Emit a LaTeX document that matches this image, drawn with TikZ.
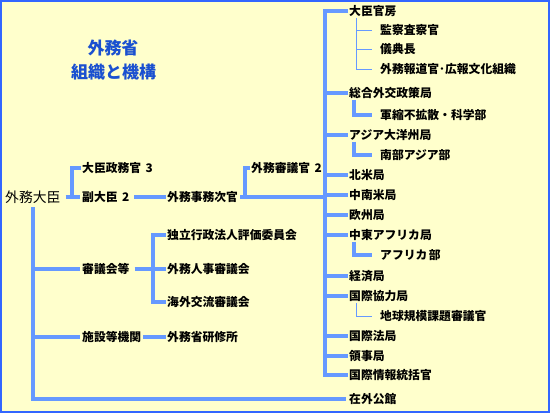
\documentclass[tikz,border=0pt]{standalone}
\usepackage{fontspec}
\newfontfamily\jp{Noto Sans CJK JP}
\definecolor{bgc}{HTML}{FFFFCC}
\definecolor{framec}{HTML}{3366FF}
\definecolor{linec}{HTML}{6699FF}
\definecolor{titlec}{HTML}{1A50D0}
\tikzset{
  lbl/.style={anchor=west, inner sep=0pt, font=\jp\bfseries\fontsize{11.8}{12}\selectfont},
  ttl/.style={inner sep=0pt, text=titlec, font=\jp\bfseries\fontsize{17}{18}\selectfont},
  trunk/.style={line width=4pt, draw=linec},
  twig/.style={line width=1pt, draw=linec},
}
\begin{document}
\begin{tikzpicture}[x=1pt, y=-1pt]
\useasboundingbox (0,0) rectangle (550,413);
\fill[bgc] (0,0) rectangle (550,413);
\draw[framec, line width=2pt] (1,1) rectangle (549,412);
% title
\node[ttl] (t1) at (113,48) {外務省};
\node[ttl] (t2) at (113.5,72) {組織と機構};
% left
\node[anchor=west, inner sep=0pt, font=\jp\fontsize{13.8}{14}\selectfont] (min) at (5,197) {外務大臣};
\node[lbl] (seimu) at (82,168) {大臣政務官\hspace{4.5pt}3};
\node[lbl] (fuku) at (82,197) {副大臣\hspace{4.5pt}2};
\node[lbl] (jimu) at (167,197) {外務事務次官};
\node[lbl] (shingi) at (251,168) {外務審議官\hspace{4.5pt}2};
\node[lbl] (shkai) at (82,269) {審議会等};
\node[lbl] (dok) at (167,235) {独立行政法人評価委員会};
\node[lbl] (jinji) at (167,269) {外務人事審議会};
\node[lbl] (kaigai) at (167,302) {海外交流審議会};
\node[lbl] (shis) at (82,337) {施設等機関};
\node[lbl] (kenshu) at (167,337) {外務省研修所};
% right column
\node[lbl] (kanbo) at (349,11) {大臣官房};
\node[lbl] (kansatsu) at (380,30) {監察査察官};
\node[lbl] (gitei) at (380,49) {儀典長};
\node[lbl] (hodo) at (380,69) {外務報道官･広報文化組織};
\node[lbl] (sogo) at (349,93) {総合外交政策局};
\node[lbl] (gunshuku) at (380,115) {軍縮不拡散・科学部};
\node[lbl] (asia) at (349,135) {アジア大洋州局};
\node[lbl] (nanbu) at (380,155) {南部アジア部};
\node[lbl] (hokubei) at (349,175) {北米局};
\node[lbl] (chunanbei) at (349,195) {中南米局};
\node[lbl] (oshu) at (349,215) {欧州局};
\node[lbl] (chuto) at (349,235) {中東アフリカ局};
\node[lbl] (africa) at (380,255) {アフリカ\hspace{1.5pt}部};
\node[lbl] (keizai) at (349,276) {経済局};
\node[lbl] (kyoryoku) at (349,296) {国際協力局};
\node[lbl] (chikyu) at (380,316) {地球規模課題審議官};
\node[lbl] (hokyoku) at (349,336) {国際法局};
\node[lbl] (ryoji) at (349,356) {領事局};
\node[lbl] (johou) at (349,375) {国際情報統括官};
\node[lbl] (zaigai) at (349,399) {在外公館};
% coordinates
\coordinate (T) at (33,207);
\coordinate (J1) at (72,197);
\coordinate (J2) at (245,197);
\coordinate (B) at (325,197);
\coordinate (S) at (153,269);
\coordinate (K) at (356,0);
\coordinate (K2) at (354,0);
% left trunk
\draw[trunk] (T) |- ([xshift=-3pt]zaigai.west);
\draw[trunk] (shkai.west -| T) -- ([xshift=-2pt]shkai.west);
\draw[trunk] (shis.west -| T) -- ([xshift=-2pt]shis.west);
\draw[trunk] ([xshift=5pt]min.east) -- ([xshift=-2pt]fuku.west);
\draw[trunk] (J1) |- ([xshift=-1pt]seimu.west);
\draw[trunk] ([xshift=5pt]fuku.east) -- ([xshift=-1pt]jimu.west);
\draw[trunk] ([xshift=2pt]jimu.east) -- (B);
\draw[trunk] (J2) |- ([xshift=-1pt]shingi.west);
\draw[trunk] ([xshift=5pt]shkai.east) -- ([xshift=-1pt]jinji.west);
\draw[trunk] ([xshift=-1pt]dok.west) -| (S) |- ([xshift=-1pt]kaigai.west);
\draw[trunk] ([xshift=2pt]shis.east) -- ([xshift=-1pt]kenshu.west);
% right bus
\draw[trunk] ([xshift=-1pt]kanbo.west) -| (johou.west -| B) -- ([xshift=-1pt]johou.west);
\foreach \n in {sogo,asia,hokubei,chunanbei,oshu,chuto,keizai,kyoryoku,hokyoku,ryoji}
  \draw[trunk] (\n.west -| B) -- ([xshift=-1pt]\n.west);
% sub-items
\draw[twig] ([yshift=-1pt]kanbo.south -| K) -- (hodo.west -| K);
\foreach \n in {kansatsu,gitei,hodo}
  \draw[twig] (\n.west -| K) -- ([xshift=-8pt]\n.west);
\draw[trunk] ([yshift=-1pt]sogo.south -| K2) |- ([xshift=-8pt]gunshuku.west);
\draw[trunk] ([yshift=-1pt]asia.south -| K2) |- ([xshift=-8pt]nanbu.west);
\draw[trunk] ([yshift=-1pt]chuto.south -| K2) |- ([xshift=-8pt]africa.west);
\draw[twig] ([yshift=-1pt]kyoryoku.south -| K) |- ([xshift=-8pt]chikyu.west);
\end{tikzpicture}
\end{document}
